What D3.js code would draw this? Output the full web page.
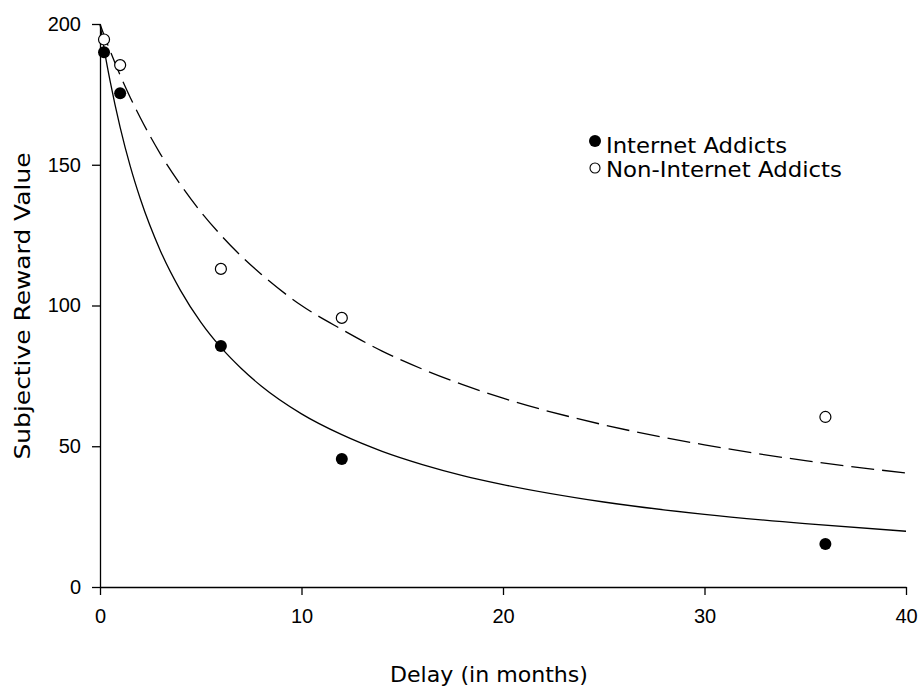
<!DOCTYPE html>
<html><head><meta charset="utf-8">
<script src="https://cdn.jsdelivr.net/npm/d3@7"></script>
<style>body{margin:0;background:#fff}svg{display:block}</style>
</head><body>
<svg id="c" width="920" height="687"></svg>
<script>
const xTicks = [0, 10, 20, 30, 40];
const yTicks = [0, 50, 100, 150, 200];
const delays = [0.2, 1, 6, 12, 36];
const addicts = [190, 175.4, 85.6, 45.5, 15.3];
const nonAddicts = [194.5, 185.4, 113, 95.6, 60.4];
const curveDelays = [0, 0.25, 0.5, 1, 1.5, 2, 3, 4, 5, 6, 7, 8, 10, 12, 14, 16, 18, 20, 25, 30, 35, 40];
const addictsCurve = [200, 189.3, 179.8, 163.3, 149.5, 137.9, 119.4, 105.3, 94.1, 85.1, 77.7, 71.4, 61.5, 54.1, 48.2, 43.5, 39.6, 36.4, 30.2, 25.8, 22.5, 19.8];
const nonAddictsCurve = [200, 195.1, 190.5, 181.8, 173.9, 166.7, 153.8, 142.9, 133.3, 125.0, 117.6, 111.1, 100, 91.5, 83.8, 77.4, 71.9, 67.1, 57.6, 50.5, 44.9, 40.5];
const legendLabels = ["Internet Addicts", "Non-Internet Addicts"];

const svg = d3.select("#c");
const x = d3.scaleLinear().domain([0, 40]).range([100, 906]);
const y = d3.scaleLinear().domain([0, 200]).range([587, 24]);

const tickFont = "'Liberation Sans', Arial, sans-serif";
const labFont = "'DejaVu Sans', Verdana, sans-serif";

const gx = svg.append("g").attr("transform", "translate(0,587)")
  .call(d3.axisBottom(x).tickValues(xTicks).tickSize(8).tickPadding(14).tickSizeOuter(0));
const gy = svg.append("g").attr("transform", "translate(100,0)")
  .call(d3.axisLeft(y).tickValues(yTicks).tickSize(8).tickPadding(11).tickSizeOuter(0));
[gx, gy].forEach(g => {
  g.select(".domain").attr("stroke", "#000").attr("stroke-width", 1.3);
  g.selectAll(".tick line").attr("stroke", "#000").attr("stroke-width", 1.3);
  g.selectAll(".tick text").attr("fill", "#000").style("font-family", tickFont).style("font-size", "20px");
});

const line = d3.line().x(d => x(d[0])).y(d => y(d[1])).curve(d3.curveMonotoneX);
svg.append("path").datum(curveDelays.map((d, i) => [d, addictsCurve[i]]))
  .attr("d", line).attr("fill", "none").attr("stroke", "#000").attr("stroke-width", 1.3);
svg.append("path").datum(curveDelays.map((d, i) => [d, nonAddictsCurve[i]]))
  .attr("d", line).attr("fill", "none").attr("stroke", "#000").attr("stroke-width", 1.3)
  .attr("stroke-dasharray", "23,8");

svg.append("g").selectAll("circle").data(delays.map((d, i) => [d, addicts[i]])).join("circle")
  .attr("cx", d => x(d[0])).attr("cy", d => y(d[1])).attr("r", 6).attr("fill", "#000");
svg.append("g").selectAll("circle").data(delays.map((d, i) => [d, nonAddicts[i]])).join("circle")
  .attr("cx", d => x(d[0])).attr("cy", d => y(d[1])).attr("r", 5.5).attr("fill", "#fff")
  .attr("stroke", "#000").attr("stroke-width", 1.2);

const leg = svg.append("g");
const legLen = [181, 236];
legendLabels.forEach((t, i) => {
  const cy = 141 + i * 27;
  leg.append("circle").attr("cx", 595).attr("cy", cy).attr("r", i === 0 ? 6 : 5)
    .attr("fill", i === 0 ? "#000" : "#fff").attr("stroke", "#000").attr("stroke-width", i === 0 ? 0 : 1.1);
  leg.append("text").attr("x", 606).attr("y", 153 + i * 24).text(t)
    .attr("textLength", legLen[i]).attr("lengthAdjust", "spacingAndGlyphs")
    .style("font-family", labFont).style("font-size", "22px").attr("fill", "#000");
});

svg.append("text").attr("x", 489).attr("y", 682).attr("text-anchor", "middle")
  .attr("textLength", 198).attr("lengthAdjust", "spacingAndGlyphs")
  .text("Delay (in months)").style("font-family", labFont).style("font-size", "22px");
svg.append("text").attr("transform", "translate(30,306) rotate(-90)").attr("text-anchor", "middle")
  .attr("textLength", 307).attr("lengthAdjust", "spacingAndGlyphs")
  .text("Subjective Reward Value").style("font-family", labFont).style("font-size", "22px");
</script>
</body></html>
